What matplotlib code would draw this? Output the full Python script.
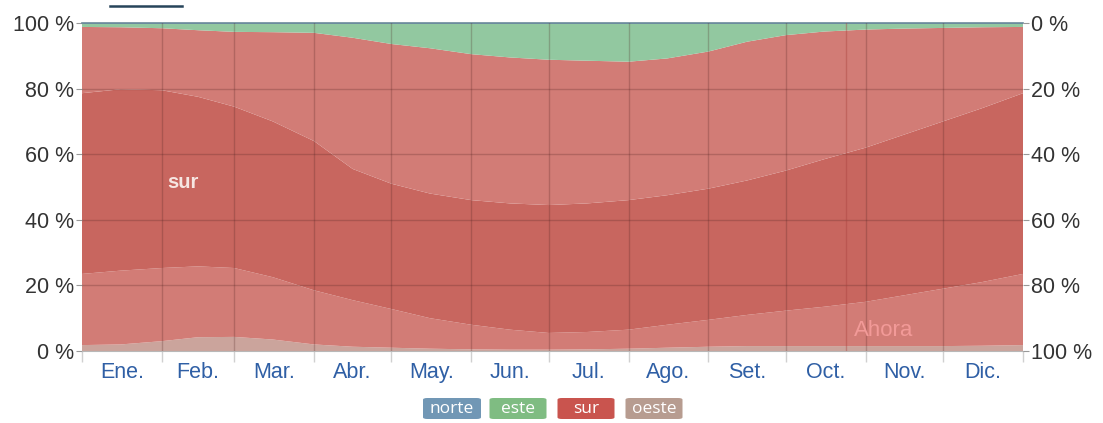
import matplotlib
matplotlib.use("Agg")
import matplotlib.pyplot as plt
from matplotlib.patches import FancyBboxPatch
import numpy as np

# ---- data (percent of time wind comes from each direction) ----
days = [0, 15, 31, 45, 59, 74, 90, 105, 120, 135, 151, 166, 181, 196,
        212, 227, 243, 258, 273, 288, 304, 319, 334, 349, 365]
oeste = [1.8, 2.0, 3.0, 4.2, 4.3, 3.5, 2.0, 1.3, 1.0, 0.7, 0.5, 0.4, 0.4,
         0.5, 0.7, 1.0, 1.3, 1.5, 1.5, 1.5, 1.5, 1.5, 1.5, 1.6, 1.8]
suroeste = [21.7, 22.5, 22.3, 21.6, 21.0, 19.0, 16.5, 14.2, 11.8, 9.3, 7.5,
            6.1, 5.1, 5.3, 5.8, 7.0, 8.2, 9.5, 10.8, 12.0, 13.5, 15.5,
            17.5, 19.4, 21.7]
sur = [55.1, 55.3, 54.2, 51.7, 49.2, 47.5, 45.5, 40.0, 38.2, 38.0, 38.0,
       38.5, 39.0, 39.2, 39.5, 39.5, 40.0, 41.0, 42.7, 45.0, 47.0, 49.0,
       51.0, 53.0, 55.1]
sureste = [20.2, 18.9, 18.9, 20.3, 22.8, 27.2, 33.0, 40.0, 42.6, 44.3, 44.5,
           44.5, 44.3, 43.5, 42.2, 41.7, 41.8, 42.3, 41.3, 38.9, 36.0, 32.3,
           28.5, 24.7, 20.2]
este = [0.9, 1.0, 1.3, 1.9, 2.4, 2.5, 2.7, 4.2, 6.1, 7.4, 9.2, 10.2, 10.9,
        11.2, 11.5, 10.5, 8.4, 5.4, 3.4, 2.3, 1.7, 1.4, 1.2, 1.0, 0.9]
norte = [0.3] * 25

month_labels = ["Ene.", "Feb.", "Mar.", "Abr.", "May.", "Jun.", "Jul.",
                "Ago.", "Set.", "Oct.", "Nov.", "Dic."]
month_starts = [0, 31, 59, 90, 120, 151, 181, 212, 243, 273, 304, 334, 365]
legend_labels = ["norte", "este", "sur", "oeste"]
now_day = 296.5

# ---- styling ----
c_oeste = "#cba49c"
c_light = "#d27c76"
c_dark = "#c8665f"
c_este = "#92c8a0"
c_norte = "#6d93b2"
legend_colors = ["#7197b5", "#7fbc82", "#c9544e", "#b79c90"]

plt.rcParams['font.family'] = ['Liberation Sans', 'DejaVu Sans']

fig = plt.figure(figsize=(11.03, 4.23), dpi=100)
ax = fig.add_axes([82/1103, 1-351/423, 941/1103, 328/423])

ax.stackplot(days, oeste, suroeste, sur, sureste, este, norte,
             colors=[c_oeste, c_light, c_dark, c_light, c_este, c_norte],
             linewidth=0)

ax.set_xlim(0, 365)
ax.set_ylim(0, 100)

# grid lines
for d in month_starts[1:-1]:
    ax.axvline(d, color="#4a1f1d", alpha=0.24, lw=1, zorder=3)
for yv in [20, 40, 60, 80]:
    ax.axhline(yv, color="#4a1f1d", alpha=0.24, lw=1, zorder=3)
ax.axvline(now_day, color="#a8403c", alpha=0.4, lw=1, zorder=3)

for s in ["left", "right", "bottom"]:
    ax.spines[s].set_visible(False)
ax.spines["top"].set_color("#6b8a9a")
ax.spines["top"].set_linewidth(1.2)
ax.spines["bottom"].set_visible(True)
ax.spines["bottom"].set_color("#b8b8b8")

ax.set_xticks(month_starts)
ax.set_xticklabels([])
ax.tick_params(axis="x", which="major", length=8, color="#d0d0d0", width=1)
mids = [(month_starts[i] + month_starts[i+1]) / 2 for i in range(12)]
ax.set_xticks(mids, minor=True)
ax.set_xticklabels(month_labels, minor=True, color="#2f5fa5", fontsize=15.5)
ax.tick_params(axis="x", which="minor", length=0, pad=8)

ax.set_yticks([0, 20, 40, 60, 80, 100])
ax.set_yticklabels([f"{v} %" for v in [0, 20, 40, 60, 80, 100]],
                   color="#333333", fontsize=15.5)
ax.tick_params(axis="y", length=4, color="#999999", pad=2)

ax2 = ax.twinx()
ax2.set_ylim(100, 0)
ax2.set_yticks([0, 20, 40, 60, 80, 100])
ax2.set_yticklabels([f"{v} %" for v in [0, 20, 40, 60, 80, 100]],
                    color="#333333", fontsize=15.5)
ax2.tick_params(axis="y", length=4, color="#999999", pad=2)
for s in ax2.spines.values():
    s.set_visible(False)

ax.text(39, 51.5, "sur", color="#f6e6e2", fontsize=14.5, ha="center",
        va="center", zorder=5, fontweight="bold")
ax.text(311, 6.3, "Ahora", color="#f29a98", fontsize=16, ha="center",
        va="center", zorder=5)

# legend badges
centers = [452, 518, 586, 654]
widths = [58, 57, 57, 57]
for lab, col, cx, w in zip(legend_labels, legend_colors, centers, widths):
    x0 = (cx - w/2) / 1103
    y0 = 1 - 419/423
    p = FancyBboxPatch((x0, y0), w/1103, 21/423,
                       boxstyle="round,pad=0,rounding_size=0.004",
                       transform=fig.transFigure, facecolor=col,
                       edgecolor="none")
    fig.patches.append(p)
    fig.text(cx/1103, 1 - 409/423, lab, color="white", fontsize=12.5,
             ha="center", va="center", family=["Open Sans", "DejaVu Sans"])

# cropped fragment at top
fig.add_artist(plt.Line2D([110/1103, 182/1103], [1-6/423, 1-6/423],
                          color="#27445a", lw=1.8))

fig.savefig("out.png", dpi=100)
